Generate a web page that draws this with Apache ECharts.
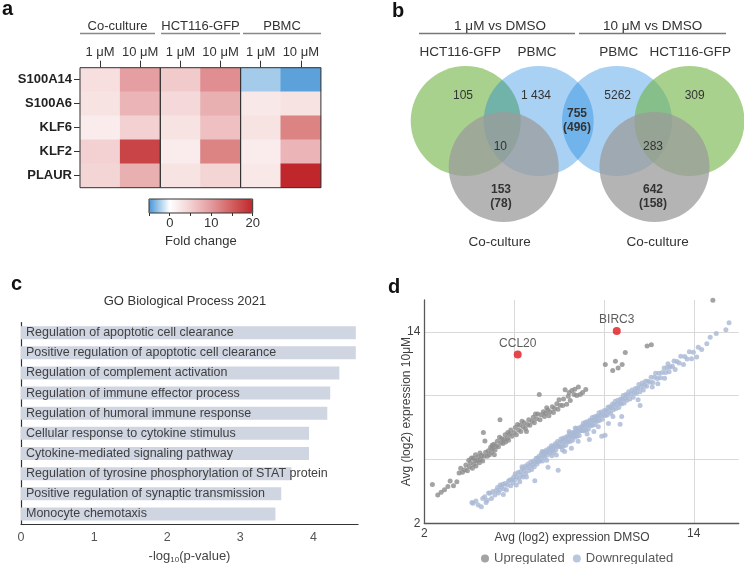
<!DOCTYPE html>
<html><head><meta charset="utf-8">
<script src="https://cdn.jsdelivr.net/npm/echarts@6/dist/echarts.min.js"></script>
<style>html,body{margin:0;padding:0;background:#fff}#c{width:744px;height:564px}</style>
</head><body><div id="c"></div>
<script>
const FONT = '"Liberation Sans", Arial, Helvetica, sans-serif';

// ---------- Panel a: heatmap ----------
const heatGroups = ['Co-culture', 'HCT116-GFP', 'PBMC'];
const heatDoses = ['1 μM', '10 μM'];
const heatGenes = ['S100A14', 'S100A6', 'KLF6', 'KLF2', 'PLAUR'];
// fold change, [dose][gene]
const foldCoculture = [[3.5, 3, 2, 5, 4.5], [9.5, 7.5, 5, 17.5, 8]];
const foldHCT = [[5.5, 4, 3, 2, 3], [11, 8, 6.5, 12, 4.5]];
const foldPBMC = [[-2.5, 2.5, 3, 2, 2.5], [-4.5, 3, 12, 7.5, 20]];
const colorbarLabels = [0, 10, 20];

// ---------- Panel b: Venn ----------
const vennComparisons = ['1 μM vs DMSO', '10 μM vs DMSO'];
const vennSets = ['HCT116-GFP', 'PBMC', 'PBMC', 'HCT116-GFP', 'Co-culture', 'Co-culture'];
const vennCounts = ['105', '1 434', '10', '755\n(496)', '5262', '309', '283', '153\n(78)', '642\n(158)'];
const vennCountBold = [false, false, false, true, false, false, false, true, true];

// ---------- Panel c: GO bars ----------
const goTerms = [
  'Regulation of apoptotic cell clearance',
  'Positive regulation of apoptotic cell clearance',
  'Regulation of complement activation',
  'Regulation of immune effector process',
  'Regulation of humoral immune response',
  'Cellular response to cytokine stimulus',
  'Cytokine-mediated signaling pathway',
  'Regulation of tyrosine phosphorylation of STAT protein',
  'Positive regulation of synaptic transmission',
  'Monocyte chemotaxis'
];
const goValues = [4.58, 4.58, 4.355, 4.23, 4.19, 3.94, 3.94, 3.70, 3.56, 3.48];

// ---------- Panel d: scatter ----------
const upregulated = [
[2.36,4.44],[2.6,3.77],[2.75,3.95],[2.9,4.1],[3.05,4.3],[3.15,4.65],[3.3,4.35],[3.45,4.6],[3.55,5.15],[3.62,5.45],[3.7,5.2],[3.8,5.35],[3.85,5.65],[3.92,5.3],[3.98,5.95],[4.0,5.55],[4.05,5.8],[4.1,6.1],[4.14,5.45],[4.18,6.1],[4.2,5.7],[4.25,5.95],[4.28,6.3],[4.3,5.6],[4.35,5.9],[4.4,6.15],[4.45,5.8],[4.48,6.4],[4.5,6.0],[4.55,6.25],[4.6,5.9],[4.63,7.69],[4.66,6.2],[4.7,7.16],[4.73,6.45],[4.8,6.2],[4.85,6.55],[4.9,6.3],[4.95,6.75],[5.0,6.45],[5.02,6.9],[5.05,6.7],[5.1,6.95],[5.12,6.3],[5.15,6.6],[5.2,6.85],[5.25,7.15],[5.3,6.8],[5.35,7.4],[5.37,8.5],[5.4,7.05],[5.45,7.3],[5.5,7.0],[5.55,7.25],[5.6,7.55],[5.62,7.1],[5.7,7.35],[5.72,7.7],[5.75,7.2],[5.8,7.6],[5.85,7.85],[5.9,7.45],[6.0,7.7],[6.05,8.0],[6.1,7.55],[6.15,8.2],[6.2,7.85],[6.25,8.15],[6.3,7.75],[6.35,8.4],[6.4,8.05],[6.45,8.3],[6.5,7.95],[6.55,7.75],[6.6,8.2],[6.65,8.5],[6.7,8.15],[6.8,8.4],[6.85,8.65],[6.9,8.3],[6.95,8.85],[7.0,8.55],[7.05,8.85],[7.12,10.08],[7.15,8.5],[7.2,8.8],[7.3,9.0],[7.35,8.7],[7.4,8.9],[7.45,9.25],[7.5,9.1],[7.55,8.75],[7.6,9.0],[7.7,9.3],[7.75,8.95],[7.8,9.2],[7.9,9.5],[7.95,9.15],[8.0,9.75],[8.05,9.4],[8.16,9.39],[8.2,9.8],[8.27,10.38],[8.34,9.46],[8.41,9.96],[8.45,10.2],[8.5,9.7],[8.57,10.33],[8.67,10.08],[8.7,10.4],[8.79,10.02],[8.86,10.54],[8.94,10.08],[9.05,10.2],[9.19,10.39],
[10.06,11.96],[10.39,11.58],[10.51,12.16],[10.63,11.73],[10.81,11.96],[10.95,12.71],[11.92,13.12],[12.11,13.19],[14.85,15.98]
];
const downregulated = [
[4.12,3.31],[4.17,3.25],[4.3,3.4],[4.4,3.15],[4.54,3.04],[4.6,3.55],[4.69,3.67],[4.75,3.3],[4.8,3.45],[4.86,3.9],[4.92,3.88],[4.99,3.56],
[5.05,4.0],[5.14,3.77],[5.2,4.05],[5.26,4.25],[5.3,3.9],[5.36,4.08],[5.38,4.4],[5.44,4.29],[5.5,4.45],[5.52,3.8],[5.55,4.15],[5.6,4.5],[5.66,4.08],[5.7,4.4],[5.75,4.65],[5.81,4.71],[5.85,4.35],[5.9,4.75],[5.95,4.55],[5.98,4.9],
[6.02,4.72],[6.05,5.1],[6.1,4.4],[6.12,4.92],[6.18,5.18],[6.22,4.82],[6.25,4.6],[6.28,5.23],[6.33,5.03],[6.35,5.55],[6.38,5.43],[6.4,4.9],[6.45,5.3],[6.5,5.6],[6.52,5.12],[6.55,4.9],[6.58,5.48],[6.62,5.72],[6.66,5.31],[6.7,5.6],[6.74,5.84],[6.78,5.38],[6.82,5.67],[6.86,5.91],[6.9,5.55],[6.92,4.67],[6.95,5.85],[6.98,6.08],
[7.02,5.72],[7.05,6.1],[7.08,5.88],[7.12,6.22],[7.15,5.9],[7.2,6.1],[7.22,6.37],[7.25,6.5],[7.26,5.91],[7.3,6.25],[7.33,6.48],[7.36,6.16],[7.4,6.4],[7.44,6.59],[7.45,5.95],[7.48,6.28],[7.51,5.51],[7.52,6.52],[7.56,6.71],[7.6,6.4],[7.63,6.68],[7.66,6.86],[7.68,6.23],[7.7,6.55],[7.73,6.83],[7.76,6.46],[7.8,6.75],[7.83,6.98],[7.86,6.61],[7.88,6.28],[7.9,6.9],[7.93,7.13],[7.96,5.33],[7.98,6.83],
[8.02,6.82],[8.05,7.1],[8.08,7.28],[8.1,6.8],[8.14,7.09],[8.15,6.6],[8.18,7.33],[8.2,6.85],[8.24,7.14],[8.25,6.5],[8.28,7.38],[8.3,6.9],[8.34,7.19],[8.38,7.48],[8.4,7.1],[8.44,7.39],[8.45,7.75],[8.48,7.63],[8.5,7.15],[8.54,7.44],[8.55,6.7],[8.58,7.68],[8.6,7.2],[8.64,7.49],[8.68,7.73],[8.7,7.4],[8.72,7.97],[8.74,7.69],[8.78,7.93],[8.8,7.45],[8.84,7.74],[8.85,7.15],[8.88,7.98],[8.9,7.5],[8.94,7.79],[8.98,8.03],
[9.02,7.82],[9.05,8.1],[9.08,8.28],[9.1,7.8],[9.14,8.09],[9.18,8.33],[9.2,7.85],[9.24,8.14],[9.25,7.6],[9.28,8.38],[9.3,7.9],[9.34,8.19],[9.35,7.25],[9.38,8.48],[9.4,8.1],[9.44,8.39],[9.48,8.63],[9.5,8.15],[9.54,8.44],[9.55,7.75],[9.58,8.68],[9.6,8.2],[9.64,8.49],[9.68,8.73],[9.7,8.4],[9.74,8.69],[9.75,8.05],[9.78,8.93],[9.8,8.45],[9.84,8.74],[9.88,8.98],[9.9,7.46],[9.92,8.52],[9.96,8.81],
[10.02,9.07],[10.05,7.52],[10.06,8.76],[10.1,9.05],[10.14,8.79],[10.18,9.28],[10.2,8.25],[10.22,9.02],[10.26,9.31],[10.3,8.9],[10.34,9.24],[10.38,9.48],[10.4,8.7],[10.42,9.12],[10.46,9.41],[10.5,9.65],[10.54,9.19],[10.58,9.48],[10.62,9.72],[10.66,9.26],[10.7,9.55],[10.72,8.21],[10.74,9.79],[10.78,9.48],[10.79,8.7],[10.82,9.77],[10.86,10.01],[10.9,9.55],[10.94,9.84],[10.98,10.08],
[11.02,9.72],[11.06,10.01],[11.1,10.25],[11.15,9.8],[11.2,10.1],[11.25,10.35],[11.3,9.9],[11.35,10.2],[11.4,10.45],[11.45,10.15],[11.5,10.45],[11.52,9.75],[11.55,10.7],[11.6,10.25],[11.61,9.39],[11.65,10.55],[11.7,10.8],[11.75,10.35],[11.8,10.65],[11.85,10.9],[11.9,10.6],[11.95,10.9],
[12.05,10.85],[12.1,11.15],[12.15,10.55],[12.18,10.83],[12.25,11.15],[12.3,11.4],[12.38,11.08],[12.4,10.75],[12.45,11.4],[12.52,11.12],[12.6,11.45],[12.68,11.73],[12.7,11.1],[12.75,11.45],[12.82,11.77],[12.85,12.0],[12.9,11.5],[12.95,11.8],
[13.05,11.85],[13.12,12.17],[13.17,11.64],[13.25,12.15],[13.35,12.05],[13.42,12.47],[13.54,11.96],[13.6,12.45],[13.7,12.3],[13.8,12.75],[13.9,12.31],[13.98,12.73],
[14.13,12.42],[14.2,13.04],[14.35,12.9],[14.58,13.25],[14.73,13.66],[15.0,13.9],[15.43,14.14],[15.57,14.58]
];
const highlightNames = ['CCL20', 'BIRC3'];
const highlightValues = [[6.16, 12.58], [10.57, 14.06]];
const axisDTicks = [2, 14];

// ---------- layout (not data) ----------
const heatLeft = [80, 160.3, 240.6];
// Venn layout in grid units (1 unit = 10 px)
const vennCircles = [
  {c: [9.37, 12.1], r: 5.5, color: 'rgba(112,178,67,0.6)'},
  {c: [16.67, 12.1], r: 5.5, color: 'rgba(10,124,221,0.35)'},
  {c: [24.5, 12.1], r: 5.5, color: 'rgba(10,124,221,0.35)'},
  {c: [31.75, 12.1], r: 5.5, color: 'rgba(112,178,67,0.6)'},
  {c: [13.17, 16.7], r: 5.5, color: 'rgba(155,155,155,0.75)'},
  {c: [28.25, 16.7], r: 5.5, color: 'rgba(155,155,155,0.75)'}
];
const vennComparisonPos = [[12.8, 2.6], [28.07, 2.6]];
const vennSetPos = [[8.83, 5.2], [16.5, 5.2], [24.67, 5.2], [31.83, 5.2], [12.77, 24.2], [28.57, 24.2]];
const vennCountPos = [[9.1, 9.6], [16.4, 9.6], [12.83, 14.67], [20.5, 12.03], [24.57, 9.6], [32.27, 9.6], [28.1, 14.67], [12.9, 19.7], [28.1, 19.7]];

const vennTexts = [];
vennComparisons.forEach((t, i) => vennTexts.push({text: t, pos: vennComparisonPos[i], size: 13.5, bold: false, color: '#333'}));
vennSets.forEach((t, i) => vennTexts.push({text: t, pos: vennSetPos[i], size: 13.5, bold: false, color: '#333'}));
vennCounts.forEach((t, i) => vennTexts.push({text: t, pos: vennCountPos[i], size: 12, bold: vennCountBold[i], color: '#333'}));

const chart = echarts.init(document.getElementById('c'), null, {renderer: 'canvas'});

const heatFolds = [foldCoculture, foldHCT, foldPBMC];
const heatSeries = heatFolds.map((f, gi) => {
  const data = [];
  f.forEach((row, di) => row.forEach((v, ki) => data.push([di, ki, v])));
  return {type: 'heatmap', xAxisIndex: gi, yAxisIndex: gi, data, silent: true, z: 1};
});

const grids = [];
const xAxes = [];
const yAxes = [];
heatLeft.forEach((l, i) => {
  grids.push({left: l, top: 67.7, width: 80.3, height: 120, show: true, borderColor: '#333', borderWidth: 1, backgroundColor: 'transparent', z: 10, outerBoundsMode: 'none'});
  xAxes.push({type: 'category', gridIndex: i, position: 'top', data: heatDoses,
    axisLine: {show: false}, splitLine: {show: false},
    axisTick: {show: true, alignWithLabel: true, interval: 0, length: 7, lineStyle: {color: '#333'}},
    axisLabel: {fontSize: 13, color: '#333', margin: 9, interval: 0, hideOverlap: false}});
  if (i === 0) {
    yAxes.push({type: 'category', gridIndex: 0, inverse: true, data: heatGenes,
      axisLine: {show: false}, splitLine: {show: false},
      axisTick: {show: true, alignWithLabel: true, interval: 0, length: 6, lineStyle: {color: '#333'}},
      axisLabel: {fontSize: 13, fontWeight: 'bold', color: '#222', margin: 8, interval: 0}});
  } else {
    yAxes.push({type: 'category', gridIndex: i, inverse: true, data: heatGenes, show: false});
  }
});
// colorbar grid (3)
grids.push({left: 149, top: 199, width: 103.7, height: 14, show: true, borderColor: '#333', borderWidth: 1, backgroundColor: 'transparent', z: 10, outerBoundsMode: 'none'});
xAxes.push({type: 'value', gridIndex: 3, position: 'top', min: -5, max: 20, interval: 5,
  axisLine: {show: false}, splitLine: {show: false}, axisLabel: {show: false},
  axisTick: {show: true, inside: true, length: 3, lineStyle: {color: '#333'}}});
xAxes.push({type: 'value', gridIndex: 3, position: 'bottom', min: -5, max: 20, interval: 5,
  axisLine: {show: false}, splitLine: {show: false}, axisTick: {show: false},
  axisLabel: {fontSize: 13, color: '#333', margin: 4, formatter: v => colorbarLabels.includes(v) ? String(v) : ''},
  name: 'Fold change', nameLocation: 'middle', nameGap: 22, nameMoveOverlap: false, nameTextStyle: {fontSize: 13, color: '#333'}});
yAxes.push({type: 'value', gridIndex: 3, show: false, min: 0, max: 1});
// venn grid (4)
grids.push({left: 372, top: 0, width: 372, height: 260, show: false, outerBoundsMode: 'none'});
xAxes.push({type: 'value', gridIndex: 4, min: 0, max: 37.2, show: false});
yAxes.push({type: 'value', gridIndex: 4, min: 0, max: 26, inverse: true, show: false});
// bar grid (5)
grids.push({left: 21, top: 322.6, width: 337, height: 201.4, show: false, outerBoundsMode: 'none'});
xAxes.push({type: 'value', gridIndex: 5, min: 0, max: 4.61, interval: 1,
  axisLine: {show: true, lineStyle: {color: '#333', width: 1.2}}, axisTick: {show: false}, splitLine: {show: false},
  axisLabel: {fontSize: 12.5, color: '#555', margin: 7, showMaxLabel: false},
  name: '-log{s|10}(p-value)', nameLocation: 'middle', nameGap: 25, nameMoveOverlap: false,
  nameTextStyle: {fontSize: 13, color: '#444', rich: {s: {fontSize: 8, color: '#444', padding: [7, 0, 0, 0]}}}});
yAxes.push({type: 'category', gridIndex: 5, inverse: true, data: goTerms,
  axisLine: {show: true, lineStyle: {color: '#333', width: 1.2}}, axisTick: {show: false}, axisLabel: {show: false}});
// scatter grid (6)
grids.push({left: 424.3, top: 300, width: 314.4, height: 223.3, show: false, outerBoundsMode: 'none'});
const dAxis = (name, gap, pad) => ({type: 'value', gridIndex: 6, min: 2, max: 16, interval: 4,
  axisLine: {show: true, lineStyle: {color: '#595959', width: 1.3}}, axisTick: {show: false},
  splitLine: {show: true, showMinLine: false, showMaxLine: false, lineStyle: {color: '#d9d9d9', width: 1}},
  axisLabel: {fontSize: 12, color: '#404040', margin: 4, showMaxLabel: false, formatter: v => axisDTicks.includes(v) ? String(v) : ''},
  name, nameLocation: 'middle', nameGap: gap, nameMoveOverlap: false, nameTextStyle: {fontSize: 12, color: '#404040', padding: pad}});
xAxes.push(dAxis('Avg (log2) expression DMSO', 8, [0, 19, 0, 0]));
yAxes.push(dAxis('Avg (log2) expression 10μM', 12, 0));

const option = {
  animation: false,
  backgroundColor: '#fff',
  textStyle: {fontFamily: FONT},
  grid: grids, xAxis: xAxes, yAxis: yAxes,
  visualMap: {type: 'continuous', seriesIndex: [0, 1, 2], min: -5, max: 20, orient: 'horizontal',
    left: 149, top: 199, itemWidth: 14, itemHeight: 103.7, padding: 0, calculable: false, hoverLink: false,
    inRange: {color: ['#4a96d6', '#ffffff', '#f3d0d1', '#e39a9d', '#d2605f', '#c0272d']}},
  legend: {data: ['Upregulated', 'Downregulated'], left: 476, top: 547, icon: 'circle', itemWidth: 8, itemHeight: 8,
    itemGap: 8, selectedMode: false, textStyle: {fontSize: 13, color: '#595959'}},
  graphic: [
    {type: 'text', x: 2, y: 9, style: {text: 'a', font: 'bold 20px ' + FONT, fill: '#111', verticalAlign: 'middle'}},
    {type: 'text', x: 392, y: 11, style: {text: 'b', font: 'bold 20px ' + FONT, fill: '#111', verticalAlign: 'middle'}},
    {type: 'text', x: 11, y: 284, style: {text: 'c', font: 'bold 20px ' + FONT, fill: '#111', verticalAlign: 'middle'}},
    {type: 'text', x: 388, y: 287, style: {text: 'd', font: 'bold 20px ' + FONT, fill: '#111', verticalAlign: 'middle'}},
    {type: 'line', shape: {x1: 80, y1: 33.5, x2: 155, y2: 33.5}, style: {stroke: '#888', lineWidth: 1.5}},
    {type: 'line', shape: {x1: 161, y1: 33.5, x2: 240, y2: 33.5}, style: {stroke: '#888', lineWidth: 1.5}},
    {type: 'line', shape: {x1: 243, y1: 33.5, x2: 321, y2: 33.5}, style: {stroke: '#888', lineWidth: 1.5}},
    {type: 'text', x: 117.5, y: 26, style: {text: heatGroups[0], font: '13px ' + FONT, fill: '#333', align: 'center', verticalAlign: 'middle'}},
    {type: 'text', x: 200.5, y: 26, style: {text: heatGroups[1], font: '13px ' + FONT, fill: '#333', align: 'center', verticalAlign: 'middle'}},
    {type: 'text', x: 282, y: 26, style: {text: heatGroups[2], font: '13px ' + FONT, fill: '#333', align: 'center', verticalAlign: 'middle'}},
    {type: 'line', shape: {x1: 419, y1: 33.5, x2: 575, y2: 33.5}, style: {stroke: '#777', lineWidth: 1.5}},
    {type: 'line', shape: {x1: 579, y1: 33.5, x2: 726, y2: 33.5}, style: {stroke: '#777', lineWidth: 1.5}},
    {type: 'text', x: 185, y: 301.7, style: {text: 'GO Biological Process 2021', font: '13px ' + FONT, fill: '#333', align: 'center', verticalAlign: 'middle'}}
  ],
  series: [
    ...heatSeries,
    {type: 'custom', xAxisIndex: 5, yAxisIndex: 4, silent: true,
      data: vennCircles.map(c => ({value: [c.c[0], c.c[1], c.r], itemStyle: {color: c.color}})),
      renderItem: (params, api) => {
        const p = api.coord([api.value(0), api.value(1)]);
        const s = api.size([api.value(2), api.value(2)]);
        return {type: 'circle', shape: {cx: p[0], cy: p[1], r: s[0]}, style: {fill: api.visual('color')}};
      }},
    {type: 'custom', xAxisIndex: 5, yAxisIndex: 4, silent: true, z: 5,
      data: vennTexts.map(t => t.pos),
      renderItem: (params, api) => {
        const t = vennTexts[params.dataIndex];
        const p = api.coord([api.value(0), api.value(1)]);
        return {type: 'text', x: p[0], y: p[1], style: {text: t.text, fill: t.color, fontSize: t.size,
          fontFamily: FONT, fontWeight: t.bold ? 'bold' : 'normal', align: 'center', verticalAlign: 'middle', lineHeight: 14}};
      }},
    {type: 'bar', xAxisIndex: 6, yAxisIndex: 5, data: goValues, barWidth: 13, silent: true,
      itemStyle: {color: '#d0d5e2'},
      label: {show: true, position: 'insideLeft', distance: 5, formatter: '{b}', fontSize: 12.5, color: '#404040'}},
    {name: 'Upregulated', type: 'scatter', xAxisIndex: 7, yAxisIndex: 6, data: upregulated, symbolSize: 5,
      silent: true, itemStyle: {color: '#8c8c8c'}},
    {name: 'Downregulated', type: 'scatter', xAxisIndex: 7, yAxisIndex: 6, data: downregulated, symbolSize: 5,
      silent: true, itemStyle: {color: '#a8b8d4'}},
    {type: 'scatter', xAxisIndex: 7, yAxisIndex: 6, symbolSize: 8, silent: true, z: 5,
      data: highlightNames.map((n, i) => ({name: n, value: highlightValues[i]})),
      itemStyle: {color: '#e0161b'},
      label: {show: true, position: 'top', distance: 1, formatter: '{b}', fontSize: 12, color: '#333'}}
  ]
};
chart.setOption(option);
</script>
</body></html>
